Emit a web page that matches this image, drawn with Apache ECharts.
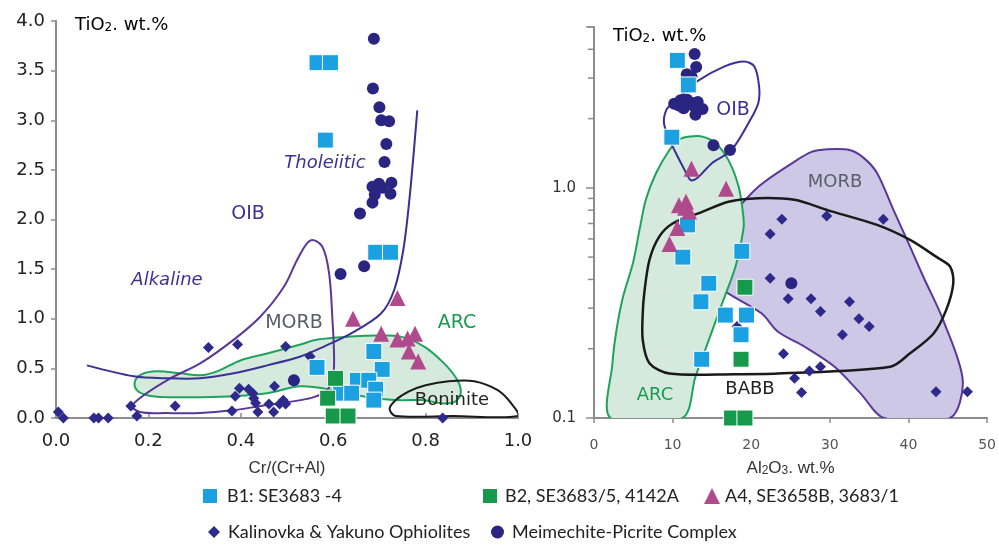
<!DOCTYPE html>
<html><head><meta charset="utf-8">
<script src="https://cdn.jsdelivr.net/npm/echarts@6/dist/echarts.min.js"></script>
<style>html,body{margin:0;padding:0;background:#fff}#c{width:999px;height:558px}</style>
</head><body><div id="c"></div>
<script>
// ---------- DATA (left panel: Cr/(Cr+Al) vs TiO2) ----------
const leftXTicks = [0, 0.2, 0.4, 0.6, 0.8, 1.0];
const leftYTicks = [0, 0.5, 1.0, 1.5, 2.0, 2.5, 3.0, 3.5, 4.0];
const leftB1 = [[0.565,3.58],[0.594,3.58],[0.583,2.80],[0.692,1.67],[0.724,1.67],[0.565,0.51],[0.688,0.67],[0.706,0.49],[0.652,0.38],[0.677,0.38],[0.692,0.29],[0.616,0.25],[0.640,0.25],[0.688,0.18]];
const leftB2 = [[0.605,0.40],[0.588,0.20],[0.600,0.02],[0.632,0.02]];
const leftA4 = [[0.739,1.21],[0.643,1.00],[0.704,0.85],[0.739,0.79],[0.761,0.80],[0.777,0.85],[0.764,0.67],[0.784,0.57]];
const leftKal = [[0.005,0.06],[0.016,0.0],[0.082,0.0],[0.092,0.0],[0.113,0.0],[0.162,0.12],[0.175,0.02],[0.258,0.12],[0.330,0.71],[0.393,0.74],[0.497,0.72],[0.550,0.62],[0.515,0.38],[0.381,0.07],[0.388,0.22],[0.397,0.30],[0.417,0.29],[0.426,0.25],[0.428,0.20],[0.432,0.15],[0.437,0.06],[0.461,0.14],[0.473,0.32],[0.471,0.06],[0.484,0.14],[0.492,0.18],[0.497,0.14],[0.837,0.0]];
const leftMei = [[0.688,3.82],[0.686,3.32],[0.700,3.13],[0.704,3.00],[0.721,2.99],[0.715,2.76],[0.711,2.58],[0.699,2.36],[0.726,2.37],[0.685,2.33],[0.706,2.32],[0.724,2.26],[0.690,2.25],[0.685,2.17],[0.658,2.06],[0.616,1.45],[0.667,1.53],[0.515,0.38]];
// field outlines (left)
const leftARC = [[0.171,0.37],[0.185,0.44],[0.218,0.47],[0.269,0.45],[0.312,0.43],[0.349,0.47],[0.399,0.58],[0.457,0.65],[0.529,0.74],[0.566,0.79],[0.638,0.82],[0.696,0.83],[0.746,0.82],[0.797,0.72],[0.840,0.55],[0.869,0.38],[0.876,0.25],[0.862,0.16],[0.83,0.15],[0.797,0.18],[0.746,0.18],[0.674,0.21],[0.602,0.28],[0.529,0.32],[0.457,0.25],[0.385,0.22],[0.312,0.21],[0.24,0.21],[0.197,0.23],[0.175,0.28]];
const leftBoninite = [[0.735,0.02],[0.722,0.09],[0.735,0.18],[0.765,0.27],[0.80,0.33],[0.85,0.37],[0.905,0.37],[0.956,0.28],[0.985,0.15],[1.0,0.02],[0.86,0.02]];
const leftMORB = [[0.165,0.13],[0.24,0.38],[0.312,0.55],[0.385,0.79],[0.442,1.02],[0.493,1.32],[0.525,1.62],[0.551,1.79],[0.576,1.73],[0.591,1.46],[0.598,1.02],[0.602,0.58],[0.598,0.38],[0.584,0.27],[0.558,0.21],[0.529,0.18],[0.457,0.13],[0.385,0.08],[0.312,0.05],[0.24,0.05],[0.182,0.06]];
const leftTholeiitic = [[0.067,0.53],[0.168,0.42],[0.24,0.40],[0.312,0.40],[0.385,0.45],[0.457,0.53],[0.529,0.62],[0.58,0.72],[0.638,0.85],[0.703,1.05],[0.732,1.29],[0.752,1.70],[0.766,2.25],[0.782,3.10]];

// ---------- DATA (right panel: Al2O3 vs TiO2, log) ----------
const rightXTicks = [0, 10, 20, 30, 40, 50];
const rightYMinorTicks = [0.2,0.3,0.4,0.5,0.6,0.7,0.8,0.9,2,3,4,5];
const rightB1 = [[10.6,3.58],[12.0,2.80],[9.9,1.66],[11.9,0.69],[11.3,0.50],[18.8,0.53],[14.6,0.385],[13.6,0.32],[16.7,0.28],[19.4,0.28],[18.7,0.23],[13.7,0.18]];
const rightB2 = [[19.2,0.37],[18.7,0.18],[17.5,0.1],[19.2,0.1]];
const rightA4 = [[12.4,1.21],[16.8,0.99],[10.8,0.84],[11.7,0.87],[11.6,0.82],[12.1,0.79],[10.6,0.67],[9.6,0.57]];
const rightKal = [[23.9,0.73],[29.6,0.755],[36.8,0.73],[22.4,0.63],[22.4,0.405],[24.7,0.33],[27.6,0.33],[28.8,0.29],[32.5,0.32],[33.7,0.27],[35.0,0.25],[31.6,0.23],[18.2,0.25],[24.1,0.19],[27.4,0.16],[28.8,0.167],[25.5,0.149],[26.4,0.129],[43.5,0.13],[47.5,0.13]];
const rightMei = [[12.8,3.82],[13.0,3.35],[11.8,3.12],[12.4,3.05],[10.2,2.32],[11.0,2.4],[11.8,2.42],[12.3,2.35],[13.2,2.36],[12.6,2.28],[13.8,2.2],[12.9,2.08],[10.8,2.28],[11.4,2.22],[15.2,1.53],[17.3,1.46],[25.1,0.385]];
// field outlines (right)
const rightOIB = [[13.1,2.90],[16.6,3.37],[19.1,3.54],[20.4,3.37],[21.0,2.76],[20.9,2.34],[19.9,1.98],[17.5,1.46],[15.0,1.28],[13.1,1.10],[12.3,1.08],[11.5,1.20],[10.4,1.42],[9.6,1.62],[8.9,1.91],[9.2,2.18],[10.0,2.34],[11.2,2.54]];
const rightARC = [[12.2,1.67],[13.8,1.67],[15.5,1.56],[17.1,1.32],[18.4,1.01],[19.0,0.75],[19.0,0.66],[18.0,0.455],[16.3,0.315],[14.6,0.218],[12.9,0.151],[11.25,0.1],[2.1,0.1],[2.35,0.173],[2.86,0.241],[3.7,0.337],[4.95,0.47],[5.8,0.66],[6.6,0.89],[7.9,1.16],[9.6,1.46],[10.8,1.62]];
const rightMORB = [[29.7,1.47],[32.5,1.46],[34.3,1.35],[36.0,1.16],[38.1,0.80],[40.2,0.555],[41.9,0.41],[44.4,0.267],[46.9,0.146],[45.3,0.1],[36.9,0.1],[33.9,0.128],[30.6,0.167],[26.8,0.204],[23.4,0.237],[21.3,0.285],[15.9,0.372],[14.2,0.47],[14.8,0.555],[17.1,0.726],[20.9,1.01],[25.5,1.30],[27.6,1.43]];
const rightBABB = [[13.35,0.776],[17.1,0.871],[20.9,0.902],[25.5,0.887],[29.7,0.80],[36.0,0.69],[40.2,0.594],[43.6,0.50],[45.3,0.455],[45.7,0.385],[44.8,0.295],[43.2,0.233],[40.2,0.191],[37.7,0.167],[23.4,0.156],[18.0,0.155],[9.6,0.156],[7.05,0.173],[6.2,0.218],[6.2,0.285],[6.4,0.35],[7.05,0.486],[8.3,0.614],[10.0,0.70]];

// ---------- CHART ----------
const FONT = 'DejaVu Sans';
const LFONT = 'Lato';
const C = {b1:'#1ba1e2', b2:'#16994a', a4:'#b04a8c', kal:'#2e2a8c', mei:'#2a2580',
  arcS:'#1fa35c', arcF:'#d5eadc', morbS:'#5b3797', morbF:'#cdc8e6', oib:'#3b2f96', blk:'#1a1a1a'};
const N = {b1:'B1: SE3683 -4', b2:'B2, SE3683/5, 4142A', a4:'A4, SE3658B, 3683/1', kal:'Kalinovka & Yakuno Ophiolites', mei:'Meimechite-Picrite Complex'};

function shape(g, pts, o) {
  return {type:'custom', xAxisIndex:g, yAxisIndex:g, z:o.z||1, silent:true, clip:true, data:[pts[0]],
    renderItem:function(params, api){
      return {type:o.open?'polyline':'polygon', shape:{points:pts.map(p=>api.coord(p)), smooth:o.smooth==null?0.35:o.smooth},
        style:{fill:o.open?null:(o.fill||null), stroke:o.stroke, lineWidth:o.lw||2}};
    }};
}
function sc(g, name, data, sym, size, color, border) {
  return {type:'scatter', name:name, xAxisIndex:g, yAxisIndex:g, data:data, symbol:sym, symbolSize:size, z:5,
    itemStyle:{color:color, borderColor:border?'#fff':color, borderWidth:border?1:0, opacity:1}};
}
const axisLine = {show:true, lineStyle:{color:'#8c8c8c', width:2}};
const tickStyle = {color:'#8c8c8c', width:1.5};
const sub = {a:{fontSize:18, color:'#222', fontFamily:FONT}, s:{fontSize:12, color:'#222', fontFamily:FONT, padding:[5,0,0,0]}};
const subT = {a:{fontSize:17, color:'#333', fontFamily:'Liberation Sans'}, s:{fontSize:12, color:'#333', fontFamily:'Liberation Sans', padding:[4,0,0,0]}};
const legText = {fontSize:18, color:'#222', fontFamily:LFONT};

const chart = echarts.init(document.getElementById('c'), null, {renderer:'canvas'});
chart.setOption({
  animation:false,
  backgroundColor:'#fff',
  grid:[{left:56, top:21, width:462, height:397}, {left:594, top:27, width:397, height:391}],
  xAxis:[
    {gridIndex:0, type:'value', min:0, max:1, interval:0.2, axisLine:axisLine, splitLine:{show:false},
     axisTick:{show:true, inside:true, length:5, lineStyle:tickStyle},
     axisLabel:{formatter:v=>leftXTicks.some(t=>Math.abs(t-v)<1e-9)?v.toFixed(1):'', fontSize:18, color:'#222', margin:14, fontFamily:FONT},
     name:'Cr/(Cr+Al)', nameLocation:'middle', nameGap:42, nameTextStyle:{fontSize:17, color:'#333', fontFamily:'Liberation Sans'}},
    {gridIndex:1, type:'value', min:0, max:50, interval:10, axisLine:axisLine, splitLine:{show:false},
     axisTick:{show:true, inside:false, length:5, lineStyle:tickStyle},
     axisLabel:{formatter:v=>rightXTicks.includes(v)?String(v):'', fontSize:14, color:'#555', margin:20, fontFamily:FONT},
     name:'{a|Al}{s|2}{a|O}{s|3}{a|. wt.%}', nameLocation:'middle', nameGap:42,
     nameTextStyle:{rich:subT}}
  ],
  yAxis:[
    {gridIndex:0, type:'value', min:0, max:4, interval:0.5, axisLine:axisLine, splitLine:{show:false},
     axisTick:{show:true, inside:false, length:5, lineStyle:tickStyle},
     axisLabel:{formatter:v=>leftYTicks.some(t=>Math.abs(t-v)<1e-9)?v.toFixed(1):'', fontSize:18, color:'#222', margin:11, fontFamily:FONT}},
    {gridIndex:1, type:'log', logBase:10, min:0.1, max:5, axisLine:axisLine, splitLine:{show:false},
     axisTick:{show:true, inside:false, length:8, lineStyle:tickStyle},
     axisLabel:{formatter:v=>Math.abs(v-1)<1e-6?'1.0':(Math.abs(v-0.1)<1e-6?'0.1':''), fontSize:15, color:'#333', margin:18, fontFamily:FONT}}
  ],
  legend:[
    {data:[{name:N.b1, icon:'rect'}], left:196, top:482, itemWidth:16, itemHeight:16, selectedMode:false, textStyle:Object.assign({padding:[0,0,0,4]}, legText)},
    {data:[{name:N.b2, icon:'rect'}], left:476, top:482, itemWidth:16, itemHeight:16, selectedMode:false, textStyle:Object.assign({padding:[0,0,0,2]}, legText)},
    {data:[{name:N.a4, icon:'triangle'}], left:699, top:482, itemWidth:16, itemHeight:16, selectedMode:false, textStyle:Object.assign({padding:[0,0,0,0]}, legText)},
    {data:[{name:N.kal, icon:'diamond'}], left:203, top:518, itemWidth:12, itemHeight:12, selectedMode:false, textStyle:Object.assign({padding:[0,0,0,3]}, legText)},
    {data:[{name:N.mei, icon:'circle'}], left:486, top:518, itemWidth:13, itemHeight:13, selectedMode:false, textStyle:Object.assign({padding:[0,0,0,3]}, legText)}
  ],
  graphic:[
    {type:'text', z:100, left:75, top:16, style:{text:'{a|TiO}{s|2}{a|. wt.%}', rich:sub}},
    {type:'text', z:100, left:613, top:27, style:{text:'{a|TiO}{s|2}{a|. wt.%}', rich:sub}},
    {type:'text', z:100, x:325, y:163, style:{text:'Tholeiitic', font:'italic 18px '+FONT, fill:'#3b3196', align:'center', verticalAlign:'middle'}},
    {type:'text', z:100, x:248, y:214, style:{text:'OIB', font:'19px '+FONT, fill:'#3b3196', align:'center', verticalAlign:'middle'}},
    {type:'text', z:100, x:167, y:280, style:{text:'Alkaline', font:'italic 18px '+FONT, fill:'#3b3196', align:'center', verticalAlign:'middle'}},
    {type:'text', z:100, x:294, y:323, style:{text:'MORB', font:'19px '+FONT, fill:'#5c5c6a', align:'center', verticalAlign:'middle'}},
    {type:'text', z:100, x:457, y:323, style:{text:'ARC', font:'19px '+FONT, fill:'#1a9a50', align:'center', verticalAlign:'middle'}},
    {type:'text', z:100, x:452, y:400, style:{text:'Boninite', font:'18px '+FONT, fill:'#222', align:'center', verticalAlign:'middle'}},
    {type:'text', z:100, x:733, y:110, style:{text:'OIB', font:'19px '+FONT, fill:'#3b3196', align:'center', verticalAlign:'middle'}},
    {type:'text', z:100, x:835, y:182, style:{text:'MORB', font:'18px '+FONT, fill:'#5c5c6a', align:'center', verticalAlign:'middle'}},
    {type:'text', z:100, x:655, y:395, style:{text:'ARC', font:'18px '+FONT, fill:'#1a9a50', align:'center', verticalAlign:'middle'}},
    {type:'text', z:100, x:750, y:389, style:{text:'BABB', font:'18px '+FONT, fill:'#222', align:'center', verticalAlign:'middle'}}
  ],
  series:[
    // left fields
    shape(0, leftARC, {fill:C.arcF, stroke:C.arcS, lw:2, z:1}),
    shape(0, leftMORB, {stroke:C.morbS, lw:2, z:2}),
    shape(0, leftBoninite, {stroke:C.blk, lw:2, z:2, smooth:0.3}),
    shape(0, leftTholeiitic, {stroke:C.oib, lw:2, z:2, open:true, smooth:0.3}),
    // right fields
    shape(1, rightMORB, {fill:C.morbF, stroke:C.morbS, lw:2, z:1, smooth:0.3}),
    shape(1, rightARC, {fill:C.arcF, stroke:C.arcS, lw:2, z:1, smooth:0.3}),
    shape(1, rightBABB, {stroke:C.blk, lw:2.5, z:2, smooth:0.3}),
    shape(1, rightOIB, {stroke:C.oib, lw:2, z:2, smooth:0.3}),
    // right log minor ticks
    {type:'custom', xAxisIndex:1, yAxisIndex:1, silent:true, clip:false, z:3,
     data:rightYMinorTicks.map(v=>[0,v]),
     renderItem:function(params, api){ const p = api.coord([0, api.value(1)]);
       return {type:'line', shape:{x1:p[0]-6, y1:p[1], x2:p[0], y2:p[1]}, style:{stroke:'#8c8c8c', lineWidth:1.5}}; }},
    // left points
    sc(0, N.kal, leftKal, 'diamond', 11, C.kal, false),
    sc(0, N.mei, leftMei, 'circle', 12, C.mei, false),
    sc(0, N.b1, leftB1, 'rect', 16, C.b1, true),
    sc(0, N.b2, leftB2, 'rect', 16, C.b2, true),
    sc(0, N.a4, leftA4, 'triangle', 16, C.a4, false),
    // right points
    sc(1, N.kal, rightKal, 'diamond', 11, C.kal, false),
    sc(1, N.mei, rightMei, 'circle', 12, C.mei, false),
    sc(1, N.b1, rightB1, 'rect', 16, C.b1, true),
    sc(1, N.b2, rightB2, 'rect', 16, C.b2, true),
    sc(1, N.a4, rightA4, 'triangle', 16, C.a4, false)
  ]
});
</script></body></html>
